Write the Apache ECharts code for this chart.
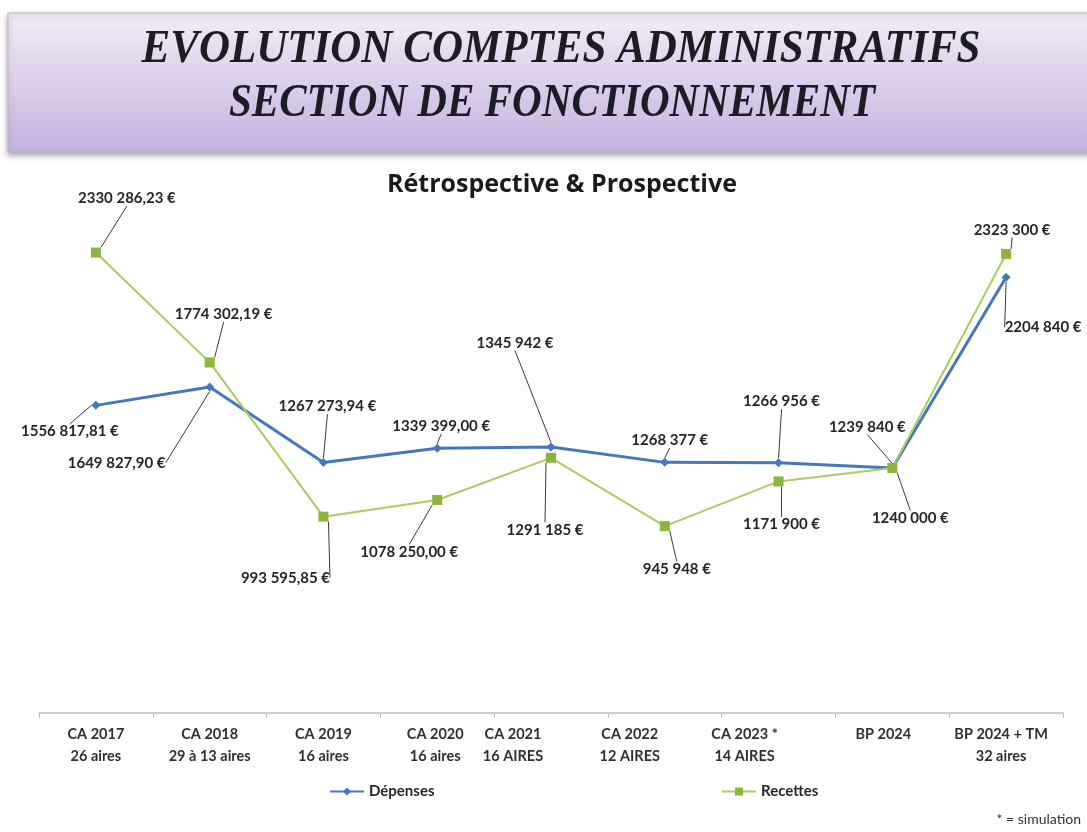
<!DOCTYPE html>
<html>
<head>
<meta charset="utf-8">
<title>Evolution comptes administratifs</title>
<script src="https://cdn.jsdelivr.net/npm/echarts@6/dist/echarts.min.js"></script>
<style>
  html, body { margin: 0; padding: 0; background: #fff; }
  #chart { width: 1087px; height: 832px; }
</style>
</head>
<body>
<div id="chart"></div>
<script>
// catégories de l'axe X
var categories = ['CA 2017\n26 aires', 'CA 2018\n29 à 13 aires', 'CA 2019\n16 aires', 'CA 2020\n16 aires',
  'CA 2021\n16 AIRES', 'CA 2022\n12 AIRES', 'CA 2023 *\n14 AIRES', 'BP 2024', 'BP 2024 + TM\n32 aires'];
var depenses = [1556817.81, 1649827.90, 1267273.94, 1339399.00, 1345942, 1268377, 1266956, 1239840, 2204840];
var recettes = [2330286.23, 1774302.19, 993595.85, 1078250.00, 1291185, 945948, 1171900, 1240000, 2323300];
// décimales affichées selon la catégorie
var decimales = [2, 2, 2, 2, 0, 0, 0, 0, 0];

// décalage des étiquettes (px) par rapport au point
var offsetsDep = [[-26, 26], [-93, 76], [4, -56], [4, -22], [-36, -104], [5, -22], [3, -61], [-25, -41], [37, 50]];
var offsetsRec = [[31, -54], [14, -48], [-38, 61], [-28, 52], [-6, 72], [12, 43], [3, 43], [18, 50], [6, -24]];
// certains libellés de l'axe sont décalés vers la gauche dans l'original (px)
var axisShift = [0, 0, 0, -2, -38, -35, -34, -9, -5];

var FONT = 'Lato, "Open Sans", sans-serif';

// 2330286.23 -> "2330 286,23 €" (seul le dernier groupe est séparé)
function fmt(v, d) {
  var s = v.toFixed(d).split('.');
  var ent = s[0].replace(/(\d)(\d{3})$/, '$1 $2');
  return ent + (s[1] ? ',' + s[1] : '') + ' €';
}

// largeur du titre mesurée pour le tasser comme dans l'original
function scaleFor(text, font, target) {
  var ctx = document.createElement('canvas').getContext('2d');
  ctx.font = font;
  return target / ctx.measureText(text).width;
}

var titleFont = 'italic bold 47px "Liberation Serif", "DejaVu Serif", serif';
var t1 = 'EVOLUTION COMPTES ADMINISTRATIFS';
var t2 = 'SECTION DE FONCTIONNEMENT';

// un style riche par libellé, le padding droit sert au décalage
var axisRich = {};
axisShift.forEach(function (s, i) {
  axisRich['s' + i] = {
    fontFamily: FONT, fontSize: 14.5, fontWeight: 'bold', color: '#303030',
    lineHeight: 22, padding: [0, -2 * s, 0, 0]
  };
});

var labelStyle = {
  show: true,
  position: 'inside',
  fontFamily: FONT,
  fontSize: 15,
  fontWeight: 'bold',
  color: '#262626'
};

var chart = echarts.init(document.getElementById('chart'));
var option = {
  backgroundColor: '#fff',
  animation: false,
  title: {
    text: 'Rétrospective & Prospective',
    left: 382,
    top: 167,
    textStyle: { fontFamily: '"Open Sans", Lato, sans-serif', fontSize: 25, fontWeight: 'bold', color: '#1a1a1a' }
  },
  graphic: [
    {
      type: 'rect',
      shape: { x: 8, y: 13, width: 1100, height: 139 },
      style: {
        fill: new echarts.graphic.LinearGradient(0, 0, 0, 1, [
          { offset: 0, color: '#F2ECF7' },
          { offset: 1, color: '#C6B2DF' }
        ]),
        stroke: '#B9B2BF',
        lineWidth: 1,
        shadowColor: 'rgba(0,0,0,0.35)',
        shadowBlur: 6,
        shadowOffsetY: 3
      }
    },
    {
      type: 'text',
      x: 561, y: 50,
      scaleX: scaleFor(t1, titleFont, 839),
      style: {
        text: t1, font: titleFont, fill: '#1c1c22',
        textAlign: 'center', textVerticalAlign: 'middle',
        shadowColor: 'rgba(60,50,70,0.45)', shadowBlur: 2, shadowOffsetX: 3, shadowOffsetY: 3
      }
    },
    {
      type: 'text',
      x: 552, y: 104,
      scaleX: scaleFor(t2, titleFont, 646),
      style: {
        text: t2, font: titleFont, fill: '#1c1c22',
        textAlign: 'center', textVerticalAlign: 'middle',
        shadowColor: 'rgba(60,50,70,0.45)', shadowBlur: 2, shadowOffsetX: 3, shadowOffsetY: 3
      }
    },
    {
      type: 'text',
      right: 6, top: 812,
      style: { text: '* = simulation', font: '14px ' + FONT, fill: '#333' }
    }
  ],
  legend: [
    {
      data: ['Dépenses'], left: 324, top: 779, itemWidth: 34, itemHeight: 10, itemGap: 4,
      textStyle: { fontFamily: FONT, fontSize: 15, fontWeight: 'bold', color: '#262626' }
    },
    {
      data: ['Recettes'], left: 716, top: 779, itemWidth: 34, itemHeight: 10, itemGap: 4,
      textStyle: { fontFamily: FONT, fontSize: 15, fontWeight: 'bold', color: '#262626' }
    }
  ],
  grid: { left: 39, right: 24, top: 219, bottom: 119 },
  xAxis: {
    type: 'category',
    data: categories,
    boundaryGap: true,
    axisLine: { lineStyle: { color: '#BDBDBD', width: 1.5 } },
    axisTick: { show: true, length: 5, lineStyle: { color: '#BDBDBD' } },
    axisLabel: {
      interval: 0, margin: 10, lineHeight: 22,
      fontFamily: FONT, fontSize: 14.5, fontWeight: 'bold', color: '#303030',
      formatter: function (v, i) {
        return v.split('\n').map(function (l) { return '{s' + i + '|' + l + '}'; }).join('\n');
      },
      rich: axisRich
    }
  },
  yAxis: {
    type: 'value',
    min: 0,
    max: 2500000,
    show: false,
    splitLine: { show: false }
  },
  series: [
    {
      name: 'Dépenses',
      type: 'line',
      data: depenses,
      symbol: 'diamond',
      symbolSize: 9,
      itemStyle: { color: '#4577BB' },
      lineStyle: { color: '#4577BB', width: 3 },
      label: Object.assign({}, labelStyle, {
        formatter: function (p) { return fmt(p.value, decimales[p.dataIndex]); }
      }),
      labelLine: { show: true, lineStyle: { color: '#3a3a3a', width: 1 } },
      labelLayout: function (p) {
        var o = offsetsDep[p.dataIndex];
        return { dx: o[0], dy: o[1] };
      }
    },
    {
      name: 'Recettes',
      type: 'line',
      data: recettes,
      symbol: 'rect',
      symbolSize: 10,
      itemStyle: { color: '#8DB53E' },
      lineStyle: { color: '#ABCB62', width: 2 },
      label: Object.assign({}, labelStyle, {
        formatter: function (p) { return fmt(p.value, decimales[p.dataIndex]); }
      }),
      labelLine: { show: true, lineStyle: { color: '#3a3a3a', width: 1 } },
      labelLayout: function (p) {
        var o = offsetsRec[p.dataIndex];
        return { dx: o[0], dy: o[1] };
      }
    }
  ]
};
chart.setOption(option);
</script>
</body>
</html>
